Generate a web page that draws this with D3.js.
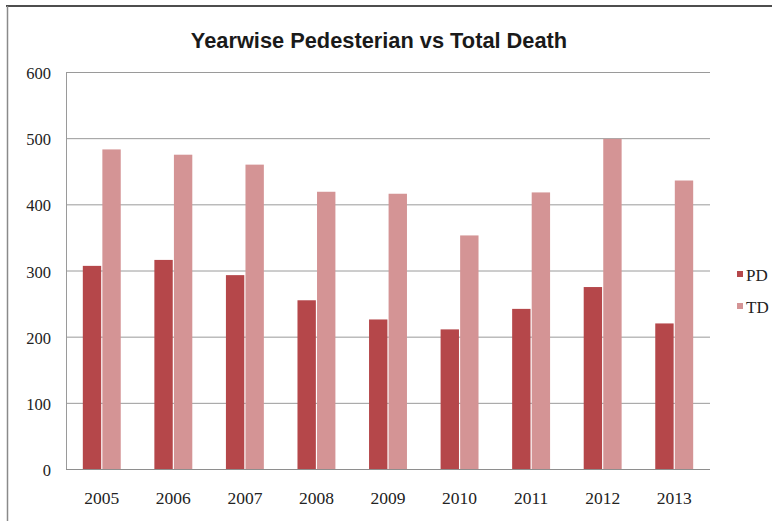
<!DOCTYPE html>
<html>
<head>
<meta charset="utf-8">
<script src="https://cdn.jsdelivr.net/npm/d3@7/dist/d3.min.js"></script>
<style>
  html, body { margin: 0; padding: 0; background: #fff; }
  svg { display: block; }
</style>
</head>
<body>
<script>
// Yearly pedestrian deaths (PD) against total deaths (TD)
const years = ["2005", "2006", "2007", "2008", "2009", "2010", "2011", "2012", "2013"];
const pdValues = [307, 316, 293, 255, 226, 211, 242, 275, 220];
const tdValues = [483, 475, 460, 419, 416, 353, 418, 499, 436];
const seriesNames = ["PD", "TD"];
const seriesColors = ["#b5474a", "#d49495"];
const yTicks = [0, 100, 200, 300, 400, 500, 600];
const titleText = "Yearwise Pedesterian vs Total Death";

const W = 772, H = 525;
const plot = { left: 66, right: 710, top: 72, bottom: 469 };

const svg = d3.select("body").append("svg")
  .attr("width", W).attr("height", H);

// frame lines at top and left
svg.append("line").attr("x1", 6).attr("x2", W).attr("y1", 6).attr("y2", 6)
  .attr("stroke", "#4d4d4d").attr("stroke-width", 2.2);
svg.append("line").attr("x1", 7.5).attr("x2", 7.5).attr("y1", 6).attr("y2", 521)
  .attr("stroke", "#8a8a8a").attr("stroke-width", 1.5);

const x0 = d3.scaleBand().domain(years)
  .range([plot.left, plot.right]).paddingInner(0.47).paddingOuter(0.235);
const x1 = d3.scaleBand().domain(seriesNames)
  .range([0, x0.bandwidth()]).paddingInner(0.06);
const y = d3.scaleLinear().domain([0, 600]).range([plot.bottom, plot.top]);

// horizontal gridlines
svg.append("g").selectAll("line").data(yTicks).join("line")
  .attr("x1", plot.left).attr("x2", plot.right)
  .attr("y1", d => y(d) + 0.5).attr("y2", d => y(d) + 0.5)
  .attr("stroke", "#9a9a9a").attr("stroke-width", 1);

// left axis line
svg.append("line").attr("x1", plot.left + 0.5).attr("x2", plot.left + 0.5)
  .attr("y1", plot.top).attr("y2", plot.bottom)
  .attr("stroke", "#9a9a9a").attr("stroke-width", 1);

// bars
const rows = years.map((yr, i) => ({ year: yr, vals: [pdValues[i], tdValues[i]] }));
const groups = svg.append("g").selectAll("g").data(rows).join("g")
  .attr("transform", d => `translate(${x0(d.year)},0)`);
groups.selectAll("rect")
  .data(d => d.vals.map((v, k) => ({ key: seriesNames[k], value: v, k })))
  .join("rect")
  .attr("x", d => x1(d.key))
  .attr("width", x1.bandwidth())
  .attr("y", d => y(d.value))
  .attr("height", d => y(0) - y(d.value))
  .attr("fill", d => seriesColors[d.k]);

// bottom axis line over the bars
svg.append("line").attr("x1", plot.left).attr("x2", plot.right)
  .attr("y1", plot.bottom + 0.5).attr("y2", plot.bottom + 0.5)
  .attr("stroke", "#8e8e8e").attr("stroke-width", 1);

// y axis labels
const yAxis = d3.axisLeft(y).tickValues(yTicks).tickSize(0).tickPadding(15);
const gy = svg.append("g").attr("transform", `translate(${plot.left},0)`).call(yAxis);
gy.select(".domain").remove();
gy.selectAll("text")
  .attr("font-family", "'Liberation Serif', 'Times New Roman', serif")
  .attr("font-size", 16.5).attr("fill", "#222").attr("dy", "0.4em");

// x axis labels
const xAxis = d3.axisBottom(x0).tickSize(0).tickPadding(23);
const gx = svg.append("g").attr("transform", `translate(0,${plot.bottom})`).call(xAxis);
gx.select(".domain").remove();
gx.selectAll("text")
  .attr("font-family", "'Liberation Serif', 'Times New Roman', serif")
  .attr("font-size", 17.5).attr("fill", "#222");

// title
svg.append("text").attr("x", 379).attr("y", 47.5).attr("text-anchor", "middle")
  .attr("font-family", "'Liberation Sans', Arial, sans-serif")
  .attr("font-weight", "bold").attr("font-size", 21.8).attr("fill", "#1a1a1a")
  .text(titleText);

// legend
const legend = svg.append("g").selectAll("g").data(seriesNames).join("g")
  .attr("transform", (d, i) => `translate(737,${271 + i * 32})`);
legend.append("rect").attr("width", 6).attr("height", 6)
  .attr("fill", (d, i) => seriesColors[i]);
legend.append("text").attr("x", 9).attr("y", 9.5)
  .attr("font-family", "'Liberation Serif', 'Times New Roman', serif")
  .attr("font-size", 17).attr("fill", "#222")
  .text(d => d);
</script>
</body>
</html>
